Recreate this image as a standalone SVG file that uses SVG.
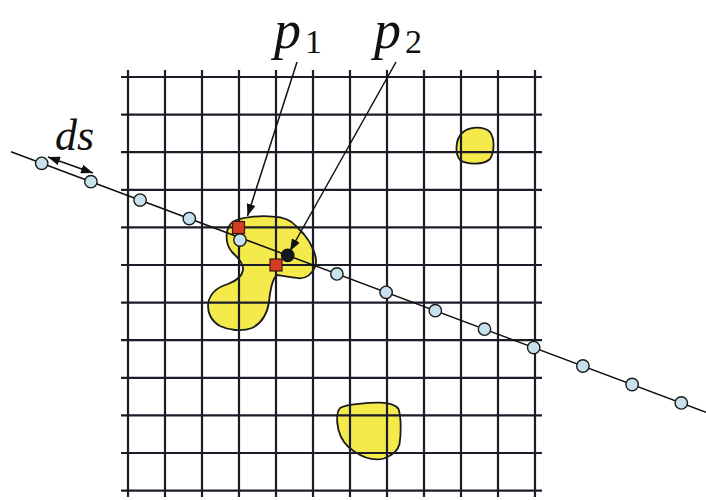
<svg xmlns="http://www.w3.org/2000/svg" width="706" height="500" viewBox="0 0 706 500">
<style>
.grid line{stroke:#1c1c28;stroke-width:2.2}
.blob{fill:#f4ea4c;stroke:#1a1a1a;stroke-width:1.8;stroke-linejoin:round}
.pt{fill:#c6e2ec;stroke:#1a1a1a;stroke-width:1.4}
.sq{fill:#d63c22;stroke:#3a1a10;stroke-width:1.2}
.conn{stroke:#111;stroke-width:1.5;fill:none}
.lbl{font-family:"Liberation Serif","DejaVu Serif",serif;font-style:italic;fill:#111}
.sub{font-family:"Liberation Serif","DejaVu Serif",serif;fill:#111}
</style>
<defs>
<marker id="ah" viewBox="0 0 12 9" refX="12" refY="4.5" markerWidth="12" markerHeight="9" markerUnits="userSpaceOnUse" orient="auto-start-reverse">
<path d="M0,0 L12,4.5 L0,9 z" fill="#111"/>
</marker>
</defs>
<rect width="706" height="500" fill="#ffffff"/>
<g id="blobs">
<path id="blob-center" class="blob" d="M233,221.7 C240,217 262,215 273,216.7 C282,217 290,219 296,226 C303,233 308,238 312,247 C316,255 317,262 315,267 C312,274 306,278 300,278.3 C293,278 283,276 277,275 C272,279 270,292 269,302 C267,315 262,323 252,328 C242,332 228,330 220,326 C211,321 207,312 208.3,303 C210,293 218,287 228,284 C236,281 242,277 243,270 C244,263 237,257 232,252 C227,246 226,238 227,232 C228,227 230,224 233,221.7 Z"/>
<path id="blob-top" class="blob" d="M462,133 C469,126 484,126 490,132 C495,139 494.5,152 490,159 C484,165 467,165 460,160 C455,154 455,140 462,133 Z"/>
<path id="blob-bottom" class="blob" d="M340,408 C346,404 370,402.5 380,402.7 C390,403 396,405 398.5,409 C401.5,418 401,435 399.5,444 C398,451 393,455 384,458.5 C374,461 364,458 355,452 C347,447 341,440 338.5,430 C336.5,421 336.5,412 340,408 Z"/>
</g>
<g id="grid" class="grid">
<line x1="128" y1="70" x2="128" y2="497"/>
<line x1="165" y1="70" x2="165" y2="497"/>
<line x1="202" y1="70" x2="202" y2="497"/>
<line x1="239" y1="70" x2="239" y2="497"/>
<line x1="276" y1="70" x2="276" y2="497"/>
<line x1="313" y1="70" x2="313" y2="497"/>
<line x1="350" y1="70" x2="350" y2="497"/>
<line x1="387" y1="70" x2="387" y2="497"/>
<line x1="424" y1="70" x2="424" y2="497"/>
<line x1="461" y1="70" x2="461" y2="497"/>
<line x1="498" y1="70" x2="498" y2="497"/>
<line x1="535" y1="70" x2="535" y2="497"/>
<line x1="121" y1="77" x2="542" y2="77"/>
<line x1="121" y1="114.6" x2="542" y2="114.6"/>
<line x1="121" y1="152.2" x2="542" y2="152.2"/>
<line x1="121" y1="189.8" x2="542" y2="189.8"/>
<line x1="121" y1="227.4" x2="542" y2="227.4"/>
<line x1="121" y1="265" x2="542" y2="265"/>
<line x1="121" y1="302.6" x2="542" y2="302.6"/>
<line x1="121" y1="340.2" x2="542" y2="340.2"/>
<line x1="121" y1="377.8" x2="542" y2="377.8"/>
<line x1="121" y1="415.4" x2="542" y2="415.4"/>
<line x1="121" y1="453" x2="542" y2="453"/>
<line x1="121" y1="490.6" x2="542" y2="490.6"/>
</g>
<g id="connectors">
<line id="ray" class="conn" x1="11" y1="151.8" x2="706" y2="412.2"/>
<line id="ds-arrow" class="conn" x1="48" y1="157" x2="93" y2="173" marker-start="url(#ah)" marker-end="url(#ah)"/>
<line id="p1-arrow" class="conn" x1="297" y1="62" x2="247.5" y2="216" marker-end="url(#ah)"/>
<line id="p2-arrow" class="conn" x1="396" y1="62" x2="290" y2="251" marker-end="url(#ah)"/>
</g>
<g id="samples">
<circle class="pt" cx="41.7" cy="163.3" r="6.2"/>
<circle class="pt" cx="90.9" cy="181.7" r="6.2"/>
<circle class="pt" cx="140.1" cy="200.1" r="6.2"/>
<circle class="pt" cx="189.3" cy="218.6" r="6.2"/>
<circle class="pt" cx="240" cy="240" r="6.2"/>
<circle cx="287.7" cy="255.4" r="6.2" fill="#151a1e" stroke="#111" stroke-width="1.4"/>
<circle class="pt" cx="336.9" cy="273.9" r="6.2"/>
<circle class="pt" cx="386.1" cy="292.3" r="6.2"/>
<circle class="pt" cx="435.3" cy="310.7" r="6.2"/>
<circle class="pt" cx="484.5" cy="329.2" r="6.2"/>
<circle class="pt" cx="533.7" cy="347.6" r="6.2"/>
<circle class="pt" cx="582.9" cy="366" r="6.2"/>
<circle class="pt" cx="632.1" cy="384.5" r="6.2"/>
<circle class="pt" cx="681.3" cy="402.9" r="6.2"/>
</g>
<g id="p1">
<rect class="sq" x="232.5" y="221.5" width="12" height="12"/>
<text class="lbl" x="274" y="48" font-size="54">p</text>
<text class="sub" x="305" y="53" font-size="34">1</text>
</g>
<g id="p2">
<rect class="sq" x="270" y="259" width="12" height="12"/>
<text class="lbl" x="374" y="48" font-size="54">p</text>
<text class="sub" x="405" y="53" font-size="34">2</text>
</g>
<g id="ds">
<text class="lbl" x="55" y="150" font-size="44">ds</text>
</g>
</svg>
